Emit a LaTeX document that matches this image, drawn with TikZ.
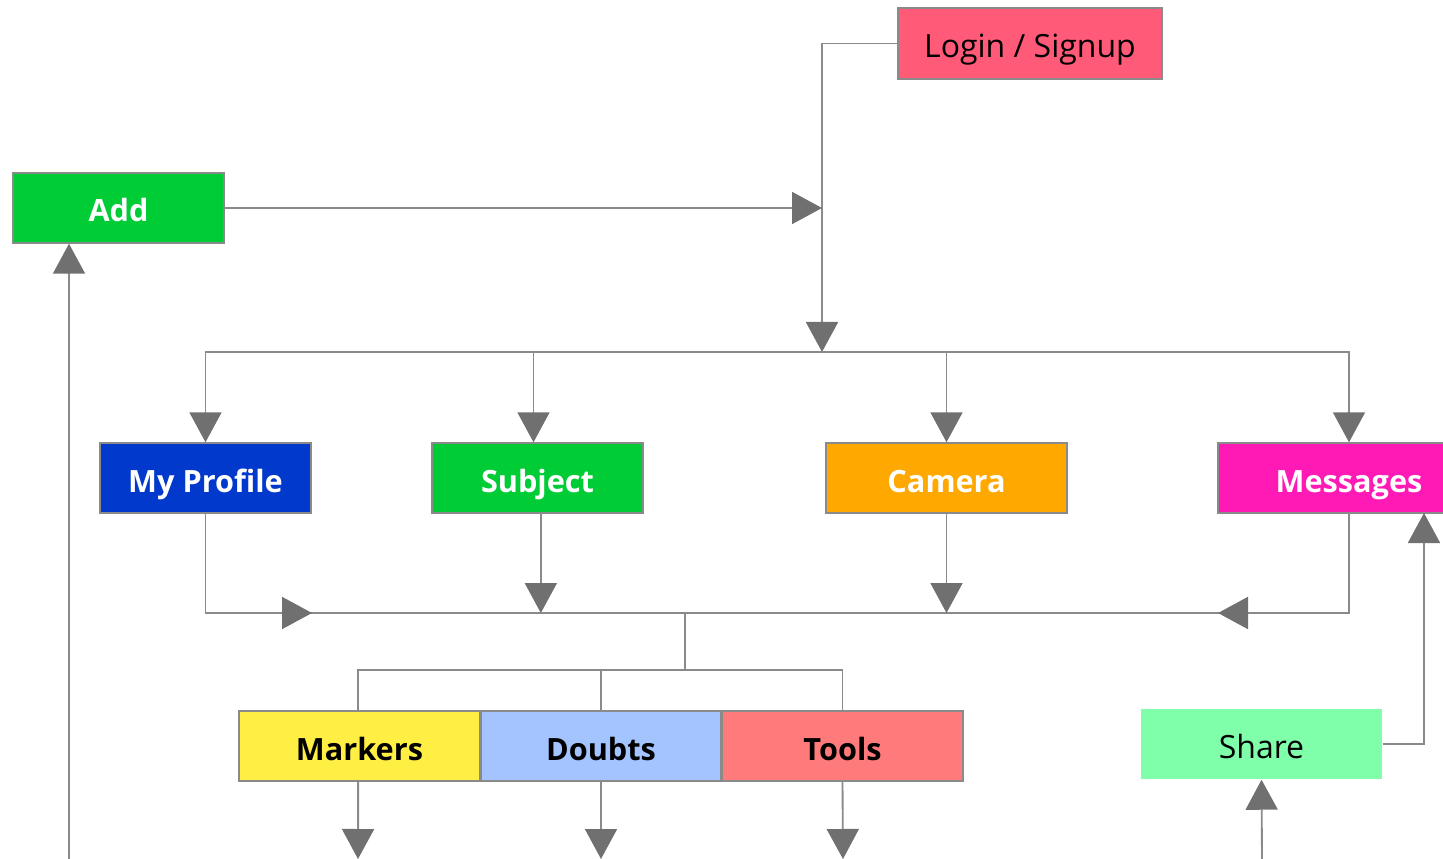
\documentclass[tikz,border=0pt]{standalone}
\usepackage{fontspec}
\setmainfont{Open Sans}
\usetikzlibrary{arrows.meta}
\definecolor{cLogin}{HTML}{FF5A78}
\definecolor{cGreen}{HTML}{00CC36}
\definecolor{cBlue}{HTML}{0039CC}
\definecolor{cCam}{HTML}{FFA800}
\definecolor{cMsg}{HTML}{FF1AB5}
\definecolor{cMark}{HTML}{FFEF45}
\definecolor{cDoubt}{HTML}{A4C4FF}
\definecolor{cTools}{HTML}{FF7A7A}
\definecolor{cShare}{HTML}{80FFAA}
\definecolor{cLine}{HTML}{8A8A8A}
\definecolor{cTip}{HTML}{707070}
\tikzset{
  box/.style={draw=cLine, line width=1.1pt, minimum height=52.5pt, inner sep=0pt,
    text height=21pt, text depth=0pt, font=\fontsize{24}{28}\selectfont},
  wbox/.style={box, text=white, font=\fontsize{23}{27}\selectfont\bfseries},
  kbox/.style={box, text=black, font=\fontsize{23}{27}\selectfont\bfseries},
  conn/.style={draw=cLine, line width=1.4pt},
  arr/.style={conn, -{Triangle[width=24pt,length=22.5pt,fill=cTip,color=cTip]}},
}
\begin{document}
\begin{tikzpicture}[x=0.75pt,y=-0.75pt]
\useasboundingbox (0,0) rectangle (1443,859);
\clip (0,0) rectangle (1443,859);
% nodes
\node[box, fill=cLogin, minimum width=198pt, minimum height=53.25pt] (login) at (1030,43.5) {Login / Signup};
\node[wbox, fill=cGreen, minimum width=158.25pt] (add) at (118.5,208) {Add};
\node[wbox, fill=cBlue, minimum width=158.25pt] (mp) at (205.5,478) {My Profile};
\node[wbox, fill=cGreen, minimum width=158.25pt] (subj) at (537.5,478) {Subject};
\node[wbox, fill=cCam, minimum width=180.75pt] (cam) at (946.5,478) {Camera};
\node[wbox, fill=cMsg, minimum width=196.5pt] (msg) at (1349,478) {Messages};
\node[kbox, fill=cMark, minimum width=180.75pt] (mark) at (359.5,746) {Markers};
\node[kbox, fill=cDoubt, minimum width=180pt] (doubt) at (601,746) {Doubts};
\node[kbox, fill=cTools, minimum width=180.75pt] (tools) at (842.5,746) {Tools};
\node[box, draw=none, fill=cShare, minimum width=180.75pt] (share) at (1261.5,744) {Share};
% coordinates
\coordinate (hub) at (822,352);
\coordinate (addin) at (822,208);
\coordinate (bl) at (207,613);
\coordinate (br) at (1349,613);
\coordinate (b1) at (312,613);
\coordinate (b2) at (1218,613);
\coordinate (hub2) at (685,613);
\coordinate (hub3) at (685,670);
\coordinate (msgin) at (1424,513);
\coordinate (sharebot) at (1262,859);
\coordinate (addbot) at (69,859);
\coordinate (mkend) at (358,859);
\coordinate (dbend) at (601,859);
\coordinate (tlend) at (843,859);
% connectors
\draw[arr] (login.west) -| (hub);
\draw[arr] (add.east) -- (addin);
\draw[arr] (hub) -| (mp.north);
\draw[arr] (hub) -| ([xshift=-3pt]subj.north);
\draw[arr] (hub) -| (cam.north);
\draw[arr] (hub) -| (msg.north);
\draw[conn] (bl) -- (br);
\draw[arr] (mp.south) |- (b1);
\draw[arr] (msg.south) |- (b2);
\draw[arr] ([xshift=2.5pt]subj.south) -- ([xshift=2.5pt]subj.south |- bl);
\draw[arr] (cam.south) -- (cam.south |- bl);
\draw[conn] (hub2) -- (hub3);
\draw[conn] (hub3) -| ([xshift=-1pt]mark.north);
\draw[conn] (hub3) -| (doubt.north);
\draw[conn] (hub3) -| (tools.north);
\draw[arr] ([xshift=-1pt]mark.south) -- (mkend);
\draw[arr] (doubt.south) -- (dbend);
\draw[arr] (tools.south) -- (tlend);
\draw[arr] (share.east) -| (msgin);
\draw[arr] (sharebot) -- (share.south);
\draw[arr] (addbot) -- (addbot |- add.south);
\end{tikzpicture}
\end{document}
